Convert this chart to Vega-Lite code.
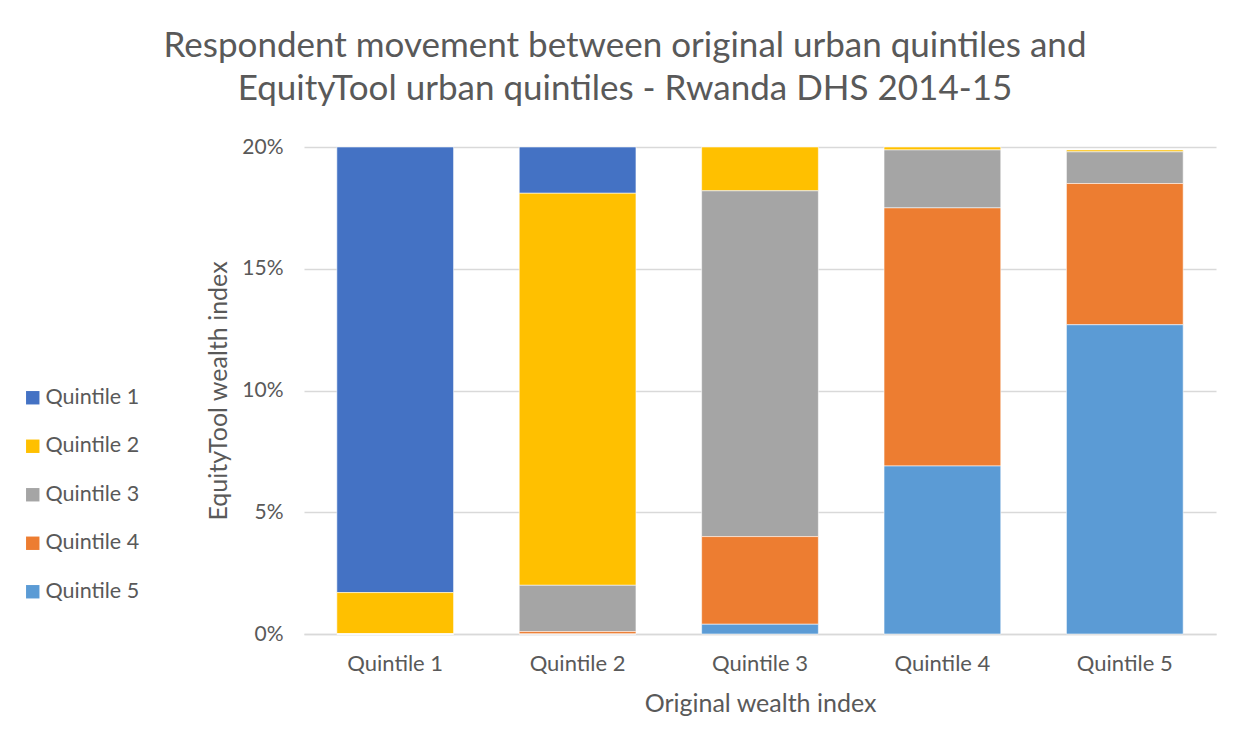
{
  "$schema": "https://vega.github.io/schema/vega-lite/v6.json",
  "autosize": {"type": "none"},
  "width": 912,
  "height": 487,
  "padding": {"left": 304, "top": 147, "right": 33, "bottom": 118},
  "background": "#ffffff",
  "title": {
    "text": ["Respondent movement between original urban quintiles and", "EquityTool urban quintiles - Rwanda DHS 2014-15"],
    "fontSize": 35,
    "fontWeight": "normal",
    "color": "#595959",
    "lineHeight": 43,
    "anchor": "middle",
    "dx": -135,
    "offset": 29
  },
  "data": {
    "values": [
      {"orig": "Quintile 1", "etq": "Quintile 1", "pct": 18.3},
      {"orig": "Quintile 1", "etq": "Quintile 2", "pct": 1.7},
      {"orig": "Quintile 1", "etq": "Quintile 3", "pct": 0},
      {"orig": "Quintile 1", "etq": "Quintile 4", "pct": 0},
      {"orig": "Quintile 1", "etq": "Quintile 5", "pct": 0},
      {"orig": "Quintile 2", "etq": "Quintile 1", "pct": 1.9},
      {"orig": "Quintile 2", "etq": "Quintile 2", "pct": 16.1},
      {"orig": "Quintile 2", "etq": "Quintile 3", "pct": 1.9},
      {"orig": "Quintile 2", "etq": "Quintile 4", "pct": 0.1},
      {"orig": "Quintile 2", "etq": "Quintile 5", "pct": 0},
      {"orig": "Quintile 3", "etq": "Quintile 1", "pct": 0},
      {"orig": "Quintile 3", "etq": "Quintile 2", "pct": 1.8},
      {"orig": "Quintile 3", "etq": "Quintile 3", "pct": 14.2},
      {"orig": "Quintile 3", "etq": "Quintile 4", "pct": 3.6},
      {"orig": "Quintile 3", "etq": "Quintile 5", "pct": 0.4},
      {"orig": "Quintile 4", "etq": "Quintile 1", "pct": 0},
      {"orig": "Quintile 4", "etq": "Quintile 2", "pct": 0.12},
      {"orig": "Quintile 4", "etq": "Quintile 3", "pct": 2.38},
      {"orig": "Quintile 4", "etq": "Quintile 4", "pct": 10.6},
      {"orig": "Quintile 4", "etq": "Quintile 5", "pct": 6.9},
      {"orig": "Quintile 5", "etq": "Quintile 1", "pct": 0},
      {"orig": "Quintile 5", "etq": "Quintile 2", "pct": 0.08},
      {"orig": "Quintile 5", "etq": "Quintile 3", "pct": 1.3},
      {"orig": "Quintile 5", "etq": "Quintile 4", "pct": 5.8},
      {"orig": "Quintile 5", "etq": "Quintile 5", "pct": 12.7}
    ]
  },
  "mark": {"type": "bar", "stroke": "#ffffff", "strokeWidth": 0.7, "strokeOpacity": 0.8},
  "encoding": {
    "x": {
      "field": "orig",
      "type": "nominal",
      "title": "Original wealth index",
      "scale": {"paddingInner": 0.36, "paddingOuter": 0.18},
      "axis": {
        "labelAngle": 0,
        "ticks": false,
        "labelPadding": 19,
        "labelFontSize": 22,
        "labelColor": "#595959",
        "titleFontSize": 25,
        "titleColor": "#595959",
        "titleFontWeight": "normal",
        "titlePadding": 17,
        "domainColor": "#d9d9d9",
        "domainWidth": 1.3
      }
    },
    "y": {
      "field": "pct",
      "type": "quantitative",
      "aggregate": "sum",
      "stack": "zero",
      "title": "EquityTool wealth index",
      "scale": {"domain": [0, 20], "nice": false},
      "axis": {
        "values": [0, 5, 10, 15, 20],
        "labelExpr": "datum.value + '%'",
        "domain": false,
        "ticks": false,
        "labelPadding": 21,
        "labelFontSize": 21,
        "labelColor": "#595959",
        "titleFontSize": 25,
        "titleColor": "#595959",
        "titleFontWeight": "normal",
        "titlePadding": 10,
        "gridColor": "#d9d9d9",
        "gridWidth": 1.3
      }
    },
    "color": {
      "field": "etq",
      "type": "nominal",
      "title": null,
      "scale": {
        "domain": ["Quintile 1", "Quintile 2", "Quintile 3", "Quintile 4", "Quintile 5"],
        "range": ["#4472C4", "#FFC000", "#A5A5A5", "#ED7D31", "#5B9BD5"]
      },
      "legend": {
        "orient": "none",
        "legendX": -282,
        "legendY": 240,
        "symbolType": "square",
        "symbolSize": 180,
        "symbolStrokeWidth": 0,
        "labelFontSize": 21.5,
        "labelColor": "#595959",
        "labelOffset": 2,
        "rowPadding": 25.5
      }
    },
    "order": {"field": "etq", "sort": "descending"}
  },
  "config": {
    "font": "Lato",
    "view": {"stroke": null}
  }
}
